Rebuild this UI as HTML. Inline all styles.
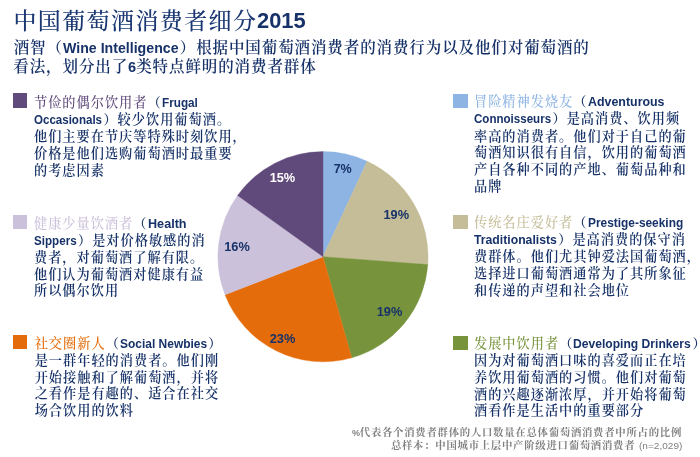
<!DOCTYPE html>
<html lang="zh-CN"><head><meta charset="utf-8"><title>中国葡萄酒消费者细分2015</title><style>
html,body{margin:0;padding:0;background:#fff}
body{width:700px;height:457px;position:relative;overflow:hidden;color:#173268;font-family:"Liberation Sans","Noto Serif CJK SC",serif}
.ln{position:absolute;white-space:nowrap;font-family:"Liberation Serif","Noto Serif CJK SC",serif}
.title{font-size:23px;line-height:30px;font-weight:500;color:#1a3772;letter-spacing:1.4px}
.sub{font-size:15.5px;line-height:20px;font-weight:600;letter-spacing:0.9px}
.body{font-size:13.2px;line-height:18px;font-weight:600;letter-spacing:1.0px}
.hd{font-weight:500}
.foot{font-size:10.4px;line-height:13px;color:#808080;font-weight:700;letter-spacing:0.72px}
.en{display:inline-block;letter-spacing:0;font-family:"Liberation Sans",sans-serif;font-weight:bold;white-space:nowrap;vertical-align:baseline;color:#173268}
.en>span{display:inline-block;transform-origin:0 50%}
.gap{display:inline-block;width:1.3px}
.sq{position:absolute;width:14.4px;height:14.4px}
.pie{position:absolute;left:0;top:0}
</style></head><body>
<svg class="pie" width="700" height="457" viewBox="0 0 700 457"><path d="M323.0,256.7L323.00,151.60A105.1,105.1 0 0 1 367.15,161.32Z" fill="#8eb4e3" stroke="#8eb4e3" stroke-width="0.4"/><path d="M323.0,256.7L367.15,161.32A105.1,105.1 0 0 1 427.80,264.62Z" fill="#c4bd97" stroke="#c4bd97" stroke-width="0.4"/><path d="M323.0,256.7L427.80,264.62A105.1,105.1 0 0 1 351.69,357.81Z" fill="#77933c" stroke="#77933c" stroke-width="0.4"/><path d="M323.0,256.7L351.69,357.81A105.1,105.1 0 0 1 225.04,294.78Z" fill="#e46c0a" stroke="#e46c0a" stroke-width="0.4"/><path d="M323.0,256.7L225.04,294.78A105.1,105.1 0 0 1 237.59,195.46Z" fill="#ccc1da" stroke="#ccc1da" stroke-width="0.4"/><path d="M323.0,256.7L237.59,195.46A105.1,105.1 0 0 1 323.00,151.60Z" fill="#604a7b" stroke="#604a7b" stroke-width="0.4"/><g font-family="Liberation Sans, sans-serif" font-weight="bold"><text x="0" y="0" transform="translate(342.7,173.4) scale(0.9554,1)" text-anchor="middle" fill="#173268" font-size="13.13">7%</text><text x="0" y="0" transform="translate(396.3,218.5) scale(0.9728,1)" text-anchor="middle" fill="#173268" font-size="13.13">19%</text><text x="0" y="0" transform="translate(389.5,316.3) scale(0.9728,1)" text-anchor="middle" fill="#173268" font-size="13.13">19%</text><text x="0" y="0" transform="translate(282.5,342.5) scale(0.9728,1)" text-anchor="middle" fill="#173268" font-size="13.13">23%</text><text x="0" y="0" transform="translate(237.0,250.9) scale(0.9728,1)" text-anchor="middle" fill="#173268" font-size="13.13">16%</text><text x="0" y="0" transform="translate(282.4,181.6) scale(0.9728,1)" text-anchor="middle" fill="#fff" font-size="13.13">15%</text></g></svg>
<div class="ln title" style="left:13.4px;top:6.6px;">中国葡萄酒消费者细分<span class="en" style="width:48.66px;font-size:21.48px;position:relative;top:-0.6px;left:-0.5px"><span style="transform:scaleX(1.0182)">2015</span></span></div>
<div class="ln sub" style="left:13.7px;top:38.2px;">酒智（<span class="en" style="width:115.59px;font-size:14.32px"><span style="transform:scaleX(0.9893)">Wine Intelligence</span></span><span class="gap"></span>）根据中国葡萄酒消费者的消费行为以及他们对葡萄酒的</div>
<div class="ln sub" style="left:13.3px;top:57.0px;">看法，划分出了<span class="en" style="width:8.11px;font-size:14.32px"><span style="transform:scaleX(1.0182)">6</span></span>类特点鲜明的消费者群体</div>
<div class="sq" style="left:12.5px;top:93.4px;background:#604a7b"></div>
<div class="ln body" style="left:34px;top:94.1px;"><span class="hd" style="color:#604a7b">节俭的偶尔饮用者</span>（<span class="en" style="width:35.92px;font-size:12.53px"><span style="transform:scaleX(0.9381)">Frugal</span></span></div>
<div class="ln body" style="left:34px;top:110.85px;"><span class="en" style="width:68.10px;font-size:12.53px"><span style="transform:scaleX(0.9224)">Occasionals</span></span><span class="gap"></span>）较少饮用葡萄酒。</div>
<div class="ln body" style="left:34px;top:128.2px;">他们主要在节庆等特殊时刻饮用，</div>
<div class="ln body" style="left:34px;top:144.95px;">价格是他们选购葡萄酒时最重要</div>
<div class="ln body" style="left:34px;top:161.7px;">的考虑因素</div>
<div class="sq" style="left:12.5px;top:214.6px;background:#ccc1da"></div>
<div class="ln body" style="left:34px;top:214.8px;"><span class="hd" style="color:#ccc1da">健康少量饮酒者</span>（<span class="en" style="width:38.60px;font-size:12.53px"><span style="transform:scaleX(1.0079)">Health</span></span></div>
<div class="ln body" style="left:34px;top:231.55px;"><span class="en" style="width:42.69px;font-size:12.53px"><span style="transform:scaleX(0.9289)">Sippers</span></span><span class="gap"></span>）是对价格敏感的消</div>
<div class="ln body" style="left:34px;top:248.9px;">费者，对葡萄酒了解有限。</div>
<div class="ln body" style="left:34px;top:265.65px;">他们认为葡萄酒对健康有益</div>
<div class="ln body" style="left:34px;top:282.4px;">所以偶尔饮用</div>
<div class="sq" style="left:12.6px;top:335.0px;background:#e46c0a"></div>
<div class="ln body" style="left:34.7px;top:334.6px;"><span class="hd" style="color:#e46c0a">社交圈新人</span>（<span class="en" style="width:87.25px;font-size:12.53px"><span style="transform:scaleX(0.9564)">Social Newbies</span></span><span class="gap"></span>）</div>
<div class="ln body" style="left:34.7px;top:351.95px;">是一群年轻的消费者。他们刚</div>
<div class="ln body" style="left:34.7px;top:368.7px;">开始接触和了解葡萄酒，并将</div>
<div class="ln body" style="left:34.7px;top:385.45px;">之看作是有趣的、适合在社交</div>
<div class="ln body" style="left:34.7px;top:402.2px;">场合饮用的饮料</div>
<div class="sq" style="left:453.3px;top:93.8px;background:#8eb4e3"></div>
<div class="ln body" style="left:474px;top:93.4px;"><span class="hd" style="color:#8eb4e3">冒险精神发烧友</span>（<span class="en" style="width:76.60px;font-size:12.53px"><span style="transform:scaleX(0.9913)">Adventurous</span></span></div>
<div class="ln body" style="left:474px;top:110.15px;"><span class="en" style="width:77.21px;font-size:12.53px"><span style="transform:scaleX(0.9241)">Connoisseurs</span></span><span class="gap"></span>）是高消费、饮用频</div>
<div class="ln body" style="left:474px;top:127.5px;">率高的消费者。他们对于自己的葡</div>
<div class="ln body" style="left:474px;top:144.25px;">萄酒知识很有自信，饮用的葡萄酒</div>
<div class="ln body" style="left:474px;top:161.0px;">产自各种不同的产地、葡萄品种和</div>
<div class="ln body" style="left:474px;top:177.75px;">品牌</div>
<div class="sq" style="left:453.3px;top:214.5px;background:#c4bd97"></div>
<div class="ln body" style="left:474px;top:213.9px;"><span class="hd" style="color:#c4bd97">传统名庄爱好者</span>（<span class="en" style="width:95.29px;font-size:12.53px"><span style="transform:scaleX(0.9502)">Prestige-seeking</span></span></div>
<div class="ln body" style="left:474px;top:230.65px;"><span class="en" style="width:82.94px;font-size:12.53px"><span style="transform:scaleX(0.9764)">Traditionalists</span></span><span class="gap"></span>）是高消费的保守消</div>
<div class="ln body" style="left:474px;top:248.0px;">费群体。他们尤其钟爱法国葡萄酒，</div>
<div class="ln body" style="left:474px;top:264.75px;">选择进口葡萄酒通常为了其所象征</div>
<div class="ln body" style="left:474px;top:281.5px;">和传递的声望和社会地位</div>
<div class="sq" style="left:453.3px;top:335.6px;background:#77933c"></div>
<div class="ln body" style="left:474px;top:334.8px;"><span class="hd" style="color:#77933c">发展中饮用者</span>（<span class="en" style="width:117.82px;font-size:12.53px"><span style="transform:scaleX(0.9669)">Developing Drinkers</span></span><span class="gap"></span>）</div>
<div class="ln body" style="left:474px;top:352.15px;">因为对葡萄酒口味的喜爱而正在培</div>
<div class="ln body" style="left:474px;top:368.9px;">养饮用葡萄酒的习惯。他们对葡萄</div>
<div class="ln body" style="left:474px;top:385.65px;">酒的兴趣逐渐浓厚，并开始将葡萄</div>
<div class="ln body" style="left:474px;top:402.4px;">酒看作是生活中的重要部分</div>
<div class="ln foot" style="right:18px;top:426px"><span class="en" style="width:8.02px;font-size:9.85px;color:#7f7f7f"><span style="transform:scaleX(0.9161)">%</span></span>代表各个消费者群体的人口数量在总体葡萄酒消费者中所占的比例</div>
<div class="ln foot" style="right:18px;top:439px">总样本：中国城市上层中产阶级进口葡萄酒消费者 <span class="en" style="width:43.38px;font-size:9.85px;font-weight:normal;color:#7f7f7f"><span style="transform:scaleX(1.0226)">(n=2,029)</span></span></div>
</body></html>
